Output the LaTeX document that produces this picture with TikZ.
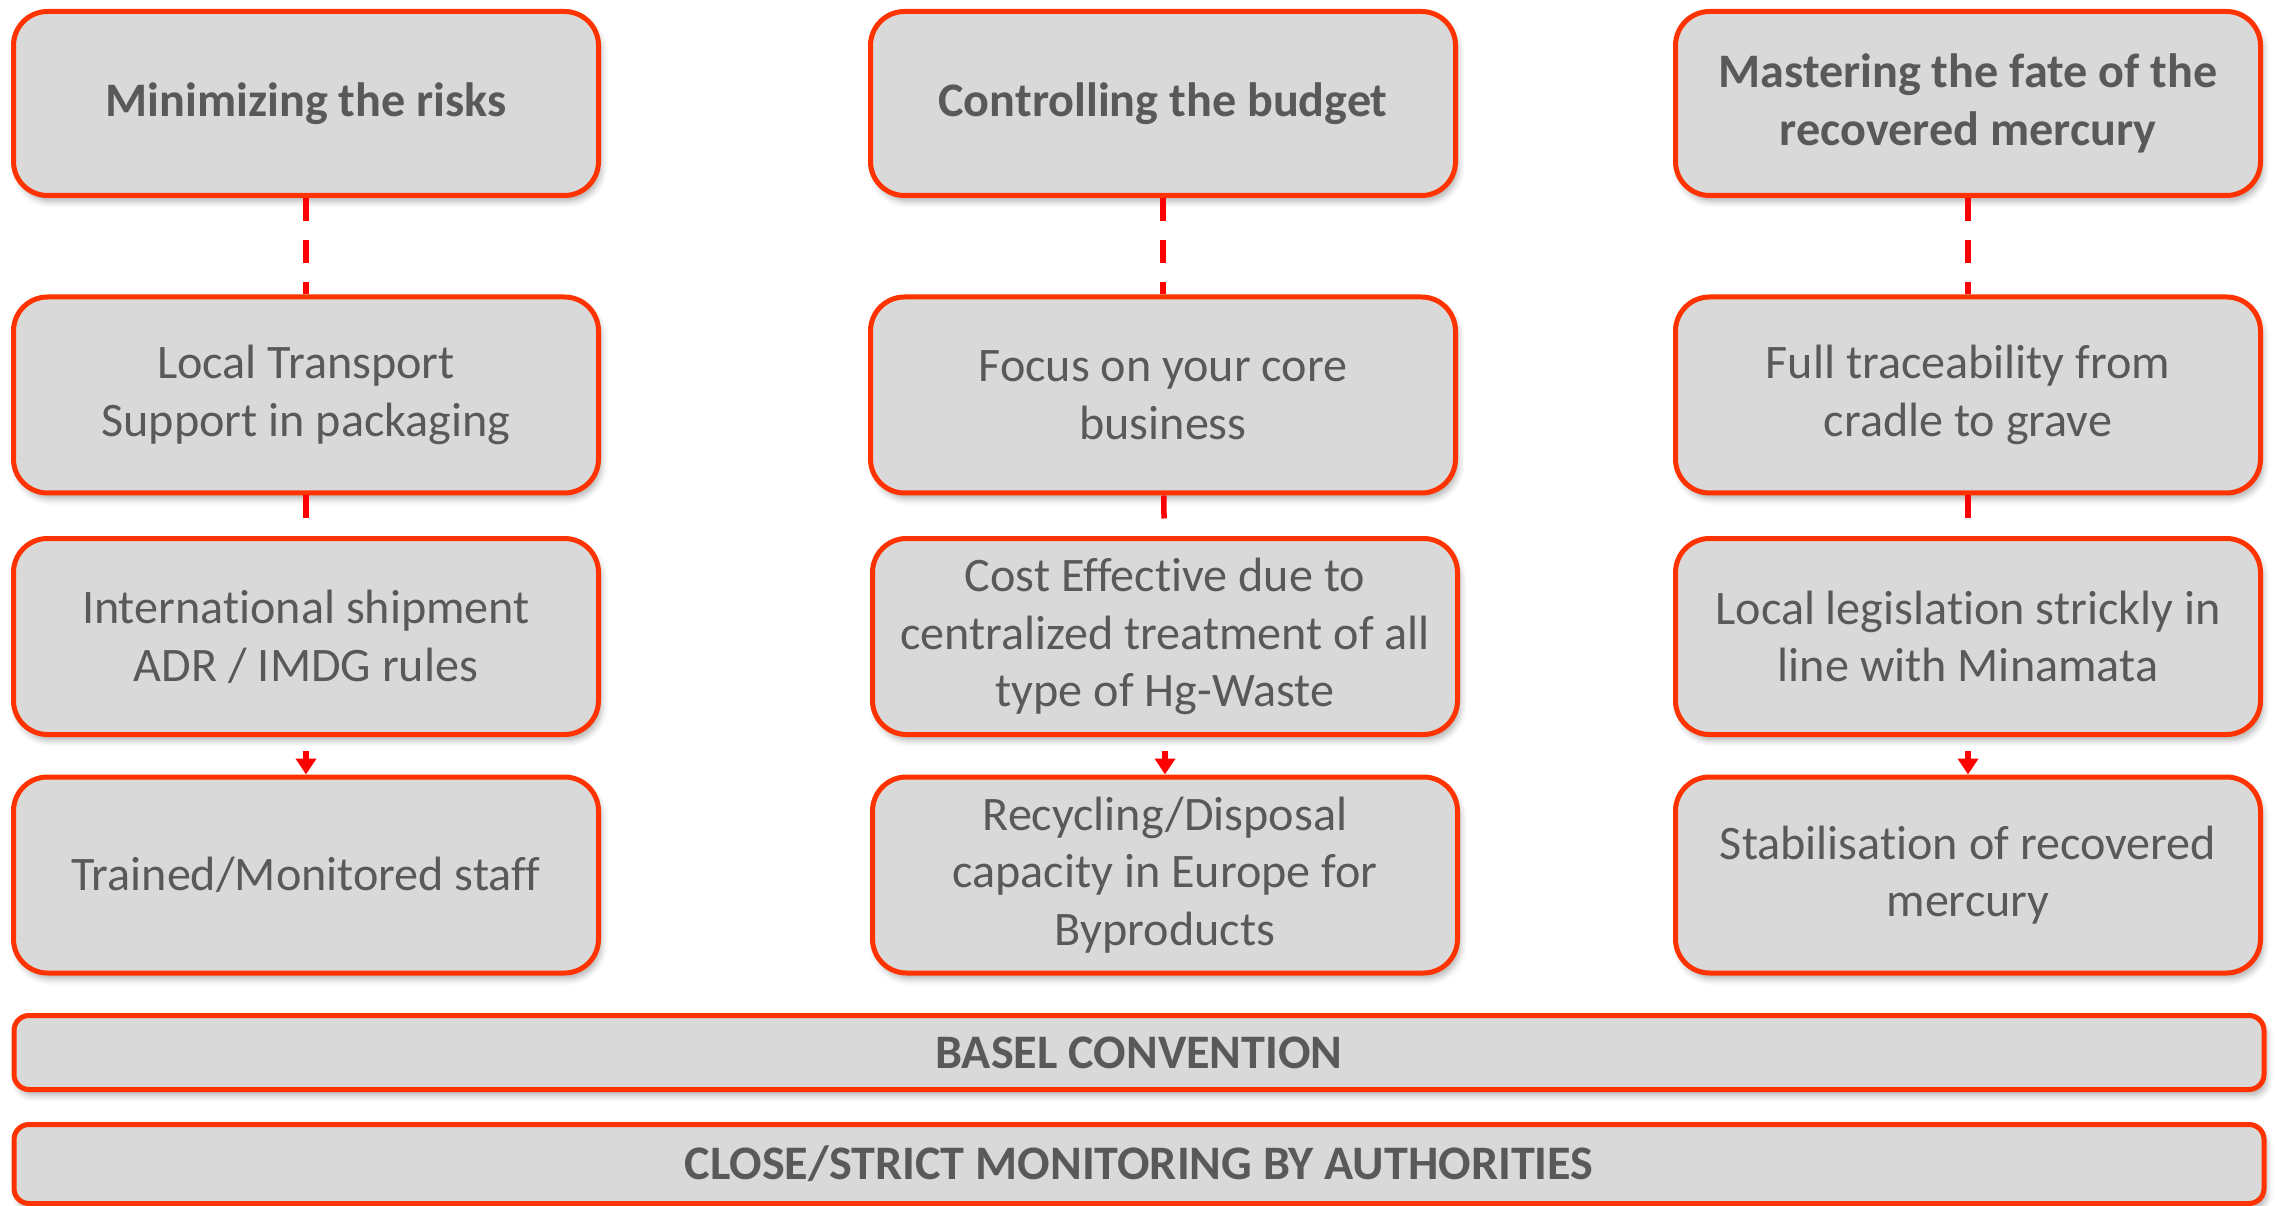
\documentclass[tikz,border=0pt]{standalone}
\usepackage{fontspec}
\setmainfont{Carlito}[Ligatures=NoCommon]
\usetikzlibrary{arrows.meta,shadows.blur}
\definecolor{boxred}{HTML}{FF3300}
\definecolor{boxgray}{HTML}{D9D9D9}
\definecolor{textgray}{HTML}{595959}
\definecolor{linkred}{HTML}{FF0000}

\begin{document}
\begin{tikzpicture}[x=0.1mm,y=-0.1mm,
  box/.style={draw=boxred,line width=0.5mm,fill=boxgray,rounded corners=3.4mm,
    minimum width=58.5mm,minimum height=19.6mm,align=center,text=textgray,
    font=\fontsize{13.7}{16.4}\selectfont,
    blur shadow={shadow xshift=0.3mm,shadow yshift=-0.6mm,shadow opacity=30,shadow blur radius=0.6mm}},
  title/.style={box,minimum height=18.4mm,font=\fontsize{13.7}{16.4}\selectfont\bfseries},
  bar/.style={box,rounded corners=1.5mm,minimum width=225mm,font=\fontsize{13.7}{16.4}\selectfont\bfseries},
  dashlink/.style={draw=linkred,line width=0.55mm,dash pattern=on 2.3mm off 1.9mm},
  arrowlink/.style={draw=linkred,line width=0.55mm,-{Triangle[length=1.6mm,width=2mm]},shorten <=1.4mm}]
\useasboundingbox (0,0) rectangle (2278,1206);

% the three titles
\foreach \n/\x/\texto in {1/306/{Minimizing the risks},2/1163/{Controlling the budget},
  3/1968/{Mastering the fate of the\\recovered mercury}}
  \node[title] (t\n) at (\x,103.5) {\texto};
% second row
\foreach \n/\x/\texto in {1/306/{Local Transport\\Support in packaging},2/1163/{Focus on your core\\business},
  3/1968/{Full traceability from\\cradle to grave}}
  \node[box] (a\n) at (\x,395) {\texto};
% third row
\foreach \n/\x/\texto in {1/306/{International shipment\\ADR / IMDG rules},
  2/1165/{Cost Effective due to\\centralized treatment of all\\type of Hg-Waste},
  3/1968/{Local legislation strickly in\\line with Minamata}}
  \node[box] (b\n) at (\x,636.5) {\texto};
% fourth row
\foreach \n/\x/\texto in {1/306/{Trained/Monitored staff},
  2/1165/{Recycling/Disposal\\capacity in Europe for\\Byproducts},
  3/1968/{Stabilisation of recovered\\mercury}}
  \node[box] (c\n) at (\x,875) {\texto};

% the links in each column
\foreach \n in {1,2,3}
{
  \draw[dashlink] (t\n) -- (a\n);
  \draw[dashlink] (a\n) -- (b\n);
  \draw[arrowlink] (b\n) -- (c\n);
}

% the two bars at the bottom
\node[bar,minimum height=7.4mm] (basel) at (1139,1052.5) {BASEL CONVENTION};
\node[bar,minimum height=7.9mm] (authorities) at (1139,1164) {CLOSE/STRICT MONITORING BY AUTHORITIES};
\end{tikzpicture}
\end{document}
